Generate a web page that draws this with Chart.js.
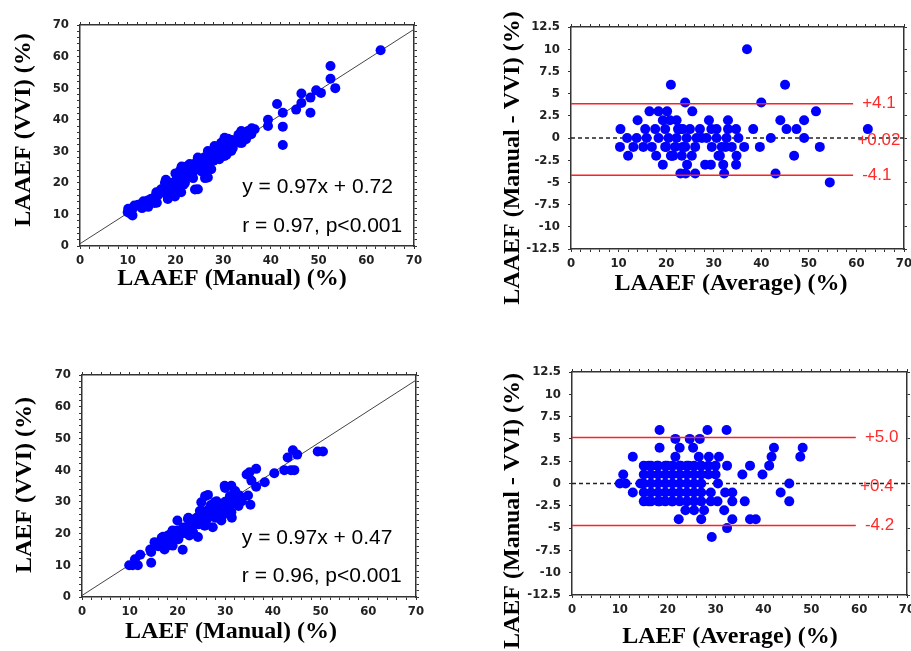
<!DOCTYPE html>
<html>
<head>
<meta charset="utf-8">
<script src="https://cdn.jsdelivr.net/npm/chart.js@4.4.0/dist/chart.umd.min.js"></script>
<style>
  body { margin: 0; background: #fff; }
  #wrap { position: relative; width: 911px; height: 651px; }
  #wrap canvas { position: absolute; left: 0; top: 0; }
</style>
</head>
<body>
<div id="wrap">
  <canvas id="p1" width="911" height="651"></canvas>
  <canvas id="p2" width="911" height="651"></canvas>
  <canvas id="p3" width="911" height="651"></canvas>
  <canvas id="p4" width="911" height="651"></canvas>
</div>
<script>
// ---- data ----
// LAAEF: manual vs VVI
const laaefManual = [63,52.5,52.5,53.5,50.5,49.5,48.3,46.4,48.3,46.4,45.3,41.3,42.5,42.5,42.5,39.4,39.4,36.6,35.2,33.8,34.5,33.4,34.8,35.9,30.3,31,31.7,30.3,28.9,28.2,26.8,27.5,29.6,
  10.5,11.2,10.1,12.2,13.3,14.3,14.7,15.7,16.1,17.1,17.8,18.2,19.2,19.9,20.3,21.3,21.7,22.4,23.4,24.1,23.7,24.5,25.5,26.2,26.9,27.2,28.3,29.3,30,30.7,31.4,31.8,33.2,33.9,34.9,36,
  10,11,11.4,12.8,14.2,15.6,16.3,17.3,18.4,18.4,19.4,20.5,21.2,22.2,22.6,23.6,24.7,24.7,25.4,26.1,26.8,27.1,27.5,29.2,29.9,
  19,20,21,22,23,20,21,22,24,25,26,23,19,20,17,16,18,15,13,28,26,30,32,31];
const laaefVvi = [62,57,53,50,48.5,49.3,47,48.3,42.2,45.3,43.2,45,42.2,37.8,32,40,38,37,36.4,36.4,34.8,32.7,33.8,35.4,34.3,32.2,30.1,28.5,29.6,31.7,30.1,28,32.7,
  10.3,12.1,11.8,13.1,14.2,12.4,14.7,15.5,13.7,17.3,20,16.3,18.9,15.7,21.5,25.2,19.4,22.6,24.2,17.9,21.5,26.8,23.6,21.5,26.3,29.4,31,28.9,33.1,28.9,30.4,33.6,35.2,32.6,35.7,37.3,
  10.7,9.7,12.8,13.3,14.4,13.6,16,17,19.1,14.9,18,20.1,17,22.8,25.4,23.3,18,28,25.4,23.3,21.7,26.4,24.3,27.5,29.1,
  20,19,21,20,22,23,24,25,24,27,26,26,17,18,18,17,21,15,12,27,28,31,31,34];
const laaefFit = { slope: 0.97, intercept: 0.72 };

// LAAEF: Bland-Altman (average, manual - VVI)
const laaefAvg = [37,21,45,24,40,51.5,25.5,16.5,44,49,14,29,33,38.3,45.3,47.4,62.4,10.4,10.3,11.8,12,42,49,36.4,39.7,52.3,46.9,43,54.4,35.2,34.7,34.8,34.7,32.2,26.1,23,24.1,19.3,28.2,29.4,24.4,17.9,
  18.4,20.2,19.3,22.2,15.6,17.7,19.8,22.9,25,27.1,30.6,13.8,15.9,18.4,20.5,22.2,24.3,26.4,28.5,30.6,32.7,13.1,15.2,17,19.8,21.9,24,26.1,29.6,31.7,33.8,21.2,23.3,25.4,31.3,32,
  20.8,21.5,23.5,27.5,29.5,31,32.5,33,21,22.5,20,23.5];
const laaefDiff = [10,6,6,4,4,3,3,3,2,2,2,2,2,1,1,1,1,1,-1,0,-2,0,0,-1,-1,-1,-2,-4,-5,0,1,-2,-3,-4,-4,-4,-4,-3,-3,-3,-3,-2,
  3,3,2,2,1,1,1,1,1,1,1,0,0,0,0,0,0,0,0,0,0,-1,-1,-1,-1,-1,-1,-1,-1,-1,-1,-2,-2,-2,-2,-3,
  2,-2,1,0,1,-2,-1,1,-2,1,-1,-1];
const laaefLimits = { upper: 3.85, mean: 0, lower: -4.2, end: 59.3 };
const laaefLimitLabels = ['+4.1', '+0.02', '-4.1'];

// LAEF: manual vs VVI
const laefManual = [49.4,50.5,44.2,45.1,43.1,43.8,44.5,42.4,40.3,38.3,36.5,35.1,36.5,35.5,35.3,34.8,31.3,26.4,29.9,31.3,31.9,32.3,32.7,
  10.6,11.7,9.9,12.2,14.5,14.5,15.2,15.9,17.3,17.3,18,19,20,20,21.1,21.5,22.2,22.5,24.3,23.9,25,25.7,26.7,27.4,28.5,29.2,29.9,30.6,27.8,25,
  11.1,14.3,16.7,17.8,18.8,20.2,21.2,22.3,23.3,24.4,24.7,25.8,25.8,26.8,28.2,29.3,30,31,31.4,32.1,32.8,33.5,34.5,
  19,20,21,22,23,24,25,26,27,28,29,30,31,32,27,26,23,22,19,18,17,16,33,30,28];
const laefVvi = [45.9,45.9,46.3,44.9,44,40,40,40,39,36.2,40.4,39.3,34.8,36.7,29.1,32,26.7,32.2,35.1,35.1,33,29.9,31.4,
  10,10,10,13.3,10.8,14.2,17.3,16.2,17.8,15,19.4,16.2,18.9,24.1,14.9,21.5,24.6,19.4,18.9,24.1,27.3,22.5,25.2,22,28.3,24.1,26.2,29.9,29.9,29.9,
  11.9,15,18.7,16.1,20.3,18.2,21.9,25,20.3,22.9,27.1,24.5,31.8,28.1,30.2,26,34.4,31.8,25,33.4,28.7,30.2,38.6,
  19,21,20,22,23,25,25,27,26,27,29,30,29,32,29,24,21,20,21,18,19,16,32,28,25];
const laefFit = { slope: 0.97, intercept: 0.47 };

// LAEF: Bland-Altman
const laefAvg = [18.3,28.3,32.3,21.6,24.6,26.7,18.3,22.5,25.3,42.2,48.2,12.7,21.6,26.5,28.6,30.7,41.7,47.7,16,17.8,19.9,22.7,24.4,26.9,30,32.4,37.2,41.2,10.7,35.6,39.8,10,11.2,14.3,45.4,12.7,43.6,45.4,16,18.3,20.9,29,30.4,33.5,36.1,23.7,27.6,31.8,22.3,27,33.5,37.2,38.4,32.4,29.2,
  15,16.5,18,19.5,21,22.5,24,25.5,27,
  15,16.5,18,19.5,21,22.5,24,25.5,27,
  15,16.5,18,19.5,21,22.5,24,25.5,27,
  15,16.5,18,19.5,21,22.5,24,25.5,27,
  15,16.5,18,19.5,21,22.5,24,25.5,27,
  28.5,28.5,30,30.5,29,32,33.5,25.5];
const laefDiff = [6,6,6,5,5,5,4,4,4,4,4,3,3,3,3,3,3,3,2,2,2,2,2,2,2,2,2,2,1,1,1,0,0,0,0,-1,-1,-2,-2,-2,-2,-2,-2,-2,-2,-3,-3,-3,-4,-4,-4,-4,-4,-5,-6,
  2,2,2,2,2,2,2,2,2,
  1,1,1,1,1,1,1,1,1,
  0,0,0,0,0,0,0,0,0,
  -1,-1,-1,-1,-1,-1,-1,-1,-1,
  -2,-2,-2,-2,-2,-2,-2,-2,-2,
  2,1,1,0,-1,-1,-1,-3];
const laefLimits = { upper: 5.15, mean: 0, lower: -4.7, end: 59.3 };
const laefLimitLabels = ['+5.0', '+0.4', '-4.2'];

// ---- drawing ----
const W = 911, H = 651;
const tickFont = { family: '"Liberation Sans Narrow", "Arial Narrow", "DejaVu Sans Condensed", sans-serif', size: 13, weight: 'bold' };
const titleFont = 'bold 24px "Liberation Serif", "Times New Roman", serif';
const noteFont = '21px "Liberation Sans", Arial, sans-serif';
const redFont = '17px "Liberation Sans", Arial, sans-serif';
const frame = '#333';

const textPlugin = {
  id: 'texts',
  afterDraw(chart, args, opts) {
    const ctx = chart.ctx;
    (opts.items || []).forEach(t => {
      const x = t.xv != null ? chart.scales.x.getPixelForValue(t.xv) : t.px;
      const y = t.yv != null ? chart.scales.y.getPixelForValue(t.yv) : t.py;
      ctx.save();
      ctx.font = t.font;
      ctx.fillStyle = t.color || '#000';
      ctx.textAlign = t.align || 'left';
      ctx.textBaseline = 'middle';
      ctx.translate(x, y);
      if (t.rotate) ctx.rotate(t.rotate);
      ctx.fillText(t.text, 0, 0);
      ctx.restore();
    });
  }
};

function axis(pos, min, max, step, major, size, labels) {
  return {
    type: 'linear',
    position: pos,
    min: min,
    max: max,
    afterFit: s => {
      if (pos === 'left' || pos === 'right') s.width = size; else s.height = size;
      // fixed frame: don't let edge labels push the plot area in
      s.paddingLeft = 0; s.paddingRight = 0; s.paddingTop = 0; s.paddingBottom = 0;
    },
    border: { display: true, color: frame, width: 1.5 },
    grid: { display: true, drawOnChartArea: false, drawTicks: true, tickLength: 3, lineWidth: 1, color: frame, tickColor: frame },
    ticks: {
      display: labels,
      stepSize: step,
      autoSkip: false,
      maxRotation: 0,
      padding: pos === 'left' ? 8 : 4,
      color: '#222',
      font: tickFont,
      callback: v => Math.abs(v / major - Math.round(v / major)) < 1e-6 ? String(Math.round(v * 10) / 10) : ''
    }
  };
}

function makePanel(id, area, yMin, yMax, yStep, yMajor, datasets, items) {
  new Chart(document.getElementById(id), {
    type: 'scatter',
    data: { datasets: datasets },
    options: {
      responsive: false,
      animation: false,
      layout: { padding: 0, autoPadding: false },
      plugins: { legend: { display: false }, tooltip: { enabled: false }, texts: { items: items } },
      scales: {
        x: axis('bottom', 0, 70, 2, 10, H - area.b, true),
        xTop: axis('top', 0, 70, 2, 10, area.t, false),
        y: axis('left', yMin, yMax, yStep, yMajor, area.l, true),
        yRight: axis('right', yMin, yMax, yStep, yMajor, W - area.r, false)
      }
    },
    plugins: [textPlugin]
  });
}

function dots(xs, ys) {
  return {
    type: 'scatter',
    data: xs.map((x, i) => ({ x: x, y: ys[i] })),
    backgroundColor: '#0000ff',
    borderWidth: 0,
    pointRadius: 5,
    order: 1
  };
}

function fitLine(fit) {
  return {
    type: 'line',
    data: [{ x: 0, y: fit.intercept }, { x: 70, y: fit.slope * 70 + fit.intercept }],
    borderColor: '#444',
    borderWidth: 1,
    pointRadius: 0,
    order: 2
  };
}

function limitLines(lim) {
  const red = v => ({
    type: 'line', data: [{ x: 0, y: v }, { x: lim.end, y: v }],
    borderColor: '#ff2020', borderWidth: 1.5, pointRadius: 0, order: 0
  });
  return [
    red(lim.upper), red(lim.lower),
    { type: 'line', data: [{ x: 0, y: lim.mean }, { x: 70, y: lim.mean }],
      borderColor: '#222', borderWidth: 1.5, borderDash: [4, 3], pointRadius: 0, order: 2 }
  ];
}

function limitNotes(lim, labels) {
  return [
    { text: labels[0], xv: 61.2, yv: lim.upper, font: redFont, color: '#ff2a2a' },
    { text: labels[1], xv: 60.2, yv: lim.mean - 0.3, font: redFont, color: '#ff2a2a' },
    { text: labels[2], xv: 61.2, yv: lim.lower, font: redFont, color: '#ff2a2a' }
  ];
}

makePanel('p1', { l: 80, t: 25, r: 414, b: 246 }, 0, 70, 2, 10,
  [dots(laaefManual, laaefVvi), fitLine(laaefFit)],
  [
    { text: 'y = 0.97x + 0.72', xv: 34, yv: 18.5, font: noteFont },
    { text: 'r = 0.97, p<0.001', xv: 34, yv: 6.2, font: noteFont },
    { text: 'LAAEF (Manual) (%)', px: 232, py: 279, font: titleFont, align: 'center' },
    { text: 'LAAEF (VVI) (%)', px: 24, py: 130, font: titleFont, align: 'center', rotate: -Math.PI / 2 }
  ]);

makePanel('p2', { l: 571, t: 27, r: 904, b: 249 }, -12.5, 12.5, 2.5, 2.5,
  [dots(laaefAvg, laaefDiff)].concat(limitLines(laaefLimits)),
  limitNotes(laaefLimits, laaefLimitLabels).concat([
    { text: 'LAAEF (Average) (%)', px: 731, py: 284, font: titleFont, align: 'center' },
    { text: 'LAAEF (Manual - VVI) (%)', px: 513, py: 158, font: titleFont, align: 'center', rotate: -Math.PI / 2 }
  ]));

makePanel('p3', { l: 82, t: 375, r: 416, b: 597 }, 0, 70, 2, 10,
  [dots(laefManual, laefVvi), fitLine(laefFit)],
  [
    { text: 'y = 0.97x + 0.47', xv: 33.5, yv: 18.5, font: noteFont },
    { text: 'r = 0.96, p<0.001', xv: 33.5, yv: 6.5, font: noteFont },
    { text: 'LAEF (Manual) (%)', px: 231, py: 632, font: titleFont, align: 'center' },
    { text: 'LAEF (VVI) (%)', px: 25, py: 485, font: titleFont, align: 'center', rotate: -Math.PI / 2 }
  ]);

makePanel('p4', { l: 572, t: 372, r: 907, b: 595 }, -12.5, 12.5, 2.5, 2.5,
  [dots(laefAvg, laefDiff)].concat(limitLines(laefLimits)),
  limitNotes(laefLimits, laefLimitLabels).concat([
    { text: 'LAEF (Average) (%)', px: 730, py: 637, font: titleFont, align: 'center' },
    { text: 'LAEF (Manual - VVI) (%)', px: 513, py: 511, font: titleFont, align: 'center', rotate: -Math.PI / 2 }
  ]));
</script>
</body>
</html>
